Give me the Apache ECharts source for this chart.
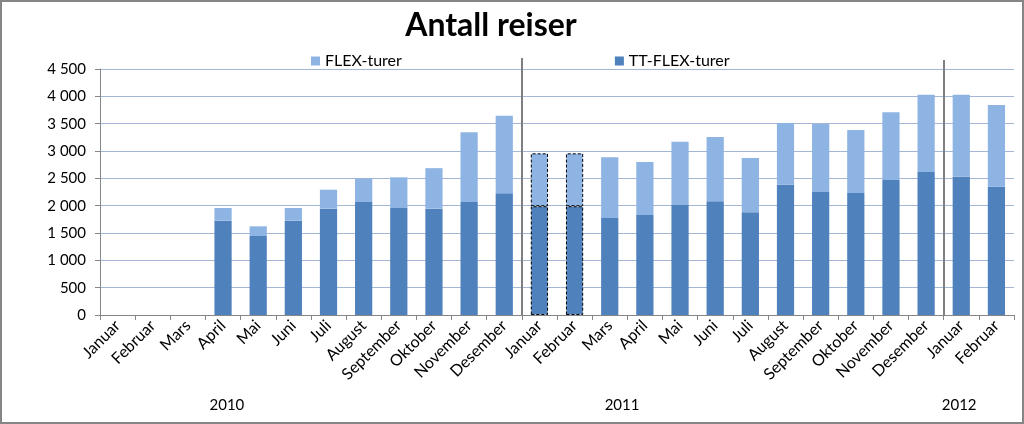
<!DOCTYPE html>
<html>
<head>
<meta charset="utf-8">
<script src="https://cdn.jsdelivr.net/npm/echarts@6/dist/echarts.min.js"></script>
<style>
html,body{margin:0;padding:0;background:#fff;}
#chart{width:1024px;height:424px;}
</style>
</head>
<body>
<div id="chart"></div>
<script>
const months = ['Januar','Februar','Mars','April','Mai','Juni','Juli','August','September','Oktober','November','Desember',
  'Januar','Februar','Mars','April','Mai','Juni','Juli','August','September','Oktober','November','Desember',
  'Januar','Februar'];
const ttFlex = [null,null,null,1725,1445,1725,1945,2067,1957,1945,2067,2228,
  1990,1990,1774,1829,2012,2079,1878,2382,2250,2232,2470,2616,
  2530,2347];
const flex = [null,null,null,232,177,232,347,427,561,741,1274,1415,
  967,967,1110,969,1158,1177,993,1131,1244,1153,1240,1411,
  1497,1493];
const yTickValues = [0,500,1000,1500,2000,2500,3000,3500,4000,4500];
const yTickLabels = ['0','500','1 000','1 500','2 000','2 500','3 000','3 500','4 000','4 500'];
const years = ['2010','2011','2012'];
const dashedIdx = [12,13];

// layout constants
const yearPos = [3.11, 14.35, 23.94];
const separatorsAfter = [11, 23];
const separatorTops = [58, 60];

const FONT = 'Lato, "Open Sans", sans-serif';
const DARK = '#4F81BD';
const LIGHT = '#8EB4E3';

function mkData(arr, color){
  return arr.map((v,i)=> dashedIdx.includes(i) ? {value:v, itemStyle:{color:color, borderColor:'#000', borderWidth:1, borderType:[3,2]}} : v);
}

const chart = echarts.init(document.getElementById('chart'), null, {renderer:'canvas'});
const option = {
  animation:false,
  backgroundColor:'#fff',
  title:{text:'Antall reiser', left:486, top:5, textAlign:'center',
    textStyle:{fontFamily:FONT, fontWeight:'bold', fontSize:32, color:'#000'}},
  legend:{data:['FLEX-turer','TT-FLEX-turer'], left:306, top:48, itemGap:213, itemWidth:9, itemHeight:9,
    icon:'rect', textStyle:{fontFamily:FONT, fontSize:16, color:'#000'}},
  grid:{left:100, right:10, top:69, bottom:109, containLabel:false},
  xAxis:{type:'category', data:months,
    axisLine:{lineStyle:{color:'#868686', width:1}},
    axisTick:{show:true, length:5, alignWithLabel:false, lineStyle:{color:'#868686'}},
    axisLabel:{rotate:45, interval:0, fontFamily:FONT, fontSize:16, color:'#000', margin:8}},
  yAxis:{type:'value', min:0, max:4500, interval:500,
    axisLine:{show:true, lineStyle:{color:'#868686'}},
    axisTick:{show:true, length:5, lineStyle:{color:'#868686'}},
    splitLine:{lineStyle:{color:'#A3B6D4', width:1}},
    axisLabel:{fontFamily:FONT, fontSize:15, color:'#000', margin:14,
      formatter:(v)=>{const i=yTickValues.indexOf(v); return i>=0?yTickLabels[i]:'';}}},
  series:[
    {name:'TT-FLEX-turer', type:'bar', stack:'a', data:mkData(ttFlex, DARK), itemStyle:{color:DARK}, barCategoryGap:'51%'},
    {name:'FLEX-turer', type:'bar', stack:'a', data:mkData(flex, LIGHT), itemStyle:{color:LIGHT}, barCategoryGap:'51%'}
  ]
};
chart.setOption(option);

const c0 = chart.convertToPixel({xAxisIndex:0}, 0);
const c1 = chart.convertToPixel({xAxisIndex:0}, 1);
const step = c1 - c0;
const yBottom = chart.convertToPixel({yAxisIndex:0}, 0);
const graphics = [
  {type:'rect', shape:{x:1, y:1, width:1022, height:422}, style:{fill:null, stroke:'#858585', lineWidth:2}, silent:true, z:100}
];
separatorsAfter.forEach((idx,k)=>{
  const x = Math.round(c0 + (idx+0.5)*step);
  graphics.push({type:'line', shape:{x1:x, y1:separatorTops[k], x2:x, y2:yBottom}, style:{stroke:'#7F7F7F', lineWidth:2}, silent:true, z:50});
});
years.forEach((y,k)=>{
  graphics.push({type:'text', x:c0 + yearPos[k]*step, y:405, style:{text:y, fontFamily:FONT, fontSize:15, fill:'#000', textAlign:'center', textVerticalAlign:'middle'}, silent:true});
});
chart.setOption({graphic:graphics});
</script>
</body>
</html>
